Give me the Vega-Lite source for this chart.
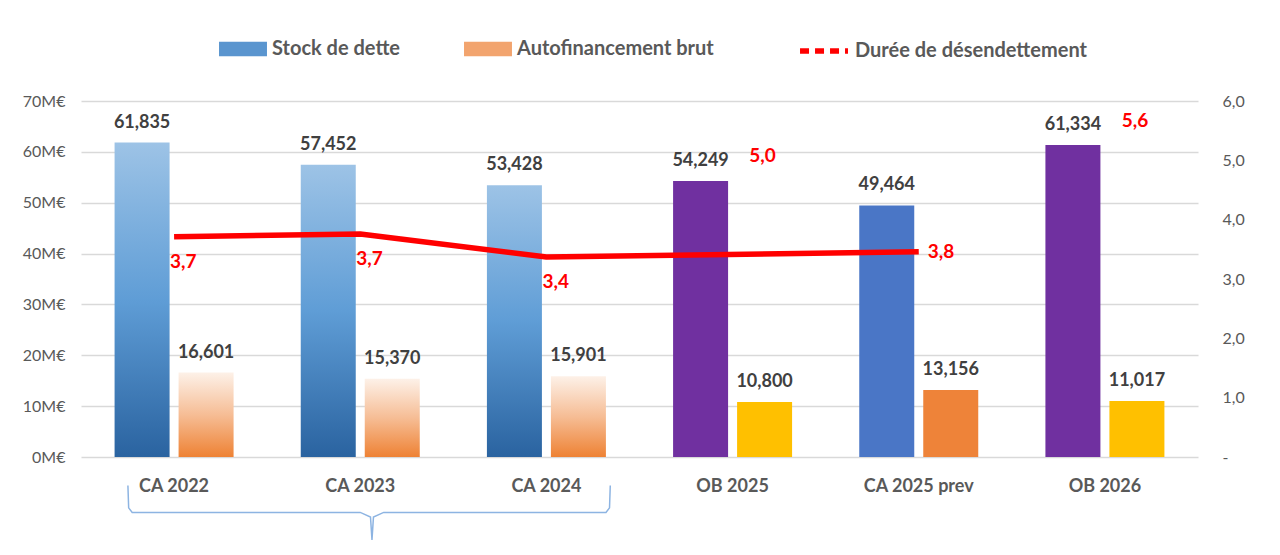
{
  "$schema": "https://vega.github.io/schema/vega-lite/v6.json",
  "width": 1117,
  "height": 356,
  "autosize": {"type": "none"},
  "padding": {"left": 81, "top": 101, "right": 82, "bottom": 98},
  "background": "white",
  "config": {
    "font": "Lato",
    "view": {"stroke": null},
    "locale": {"number": {"decimal": ",", "thousands": "\u00a0", "grouping": [3], "currency": ["", "\u00a0€"]}},
    "axis": {"domain": false, "ticks": false, "labelFont": "Lato"},
    "legend": {"labelFontSize": 20, "labelFontWeight": "bold", "labelColor": "#595959", "labelFont": "Lato", "labelOffset": 4, "labelLimit": 400, "direction": "horizontal"}
  },
  "datasets": {
    "barres": [
      {"annee": "CA 2022", "serie": "Stock de dette", "valeur": 61.835},
      {"annee": "CA 2023", "serie": "Stock de dette", "valeur": 57.452},
      {"annee": "CA 2024", "serie": "Stock de dette", "valeur": 53.428},
      {"annee": "OB 2025", "serie": "Stock de dette", "valeur": 54.249},
      {"annee": "CA 2025 prev", "serie": "Stock de dette", "valeur": 49.464},
      {"annee": "OB 2026", "serie": "Stock de dette", "valeur": 61.334},
      {"annee": "CA 2022", "serie": "Autofinancement brut", "valeur": 16.601},
      {"annee": "CA 2023", "serie": "Autofinancement brut", "valeur": 15.370},
      {"annee": "CA 2024", "serie": "Autofinancement brut", "valeur": 15.901},
      {"annee": "OB 2025", "serie": "Autofinancement brut", "valeur": 10.800},
      {"annee": "CA 2025 prev", "serie": "Autofinancement brut", "valeur": 13.156},
      {"annee": "OB 2026", "serie": "Autofinancement brut", "valeur": 11.017}
    ],
    "desendettement": [
      {"annee": "CA 2022", "serie": "Durée de désendettement", "duree": 3.71, "etiquette": "3,7"},
      {"annee": "CA 2023", "serie": "Durée de désendettement", "duree": 3.76, "etiquette": "3,7"},
      {"annee": "CA 2024", "serie": "Durée de désendettement", "duree": 3.37, "etiquette": "3,4"},
      {"annee": "OB 2025", "serie": "Durée de désendettement", "duree": 5.0, "etiquette": "5,0"},
      {"annee": "CA 2025 prev", "serie": "Durée de désendettement", "duree": 3.46, "etiquette": "3,8"},
      {"annee": "OB 2026", "serie": "Durée de désendettement", "duree": 5.6, "etiquette": "5,6"}
    ],
    "accolade": [
      {"bx": 0.252, "by": -5.6},
      {"bx": 0.256, "by": -10.0},
      {"bx": 0.275, "by": -10.9},
      {"bx": 1.50, "by": -10.9},
      {"bx": 1.555, "by": -11.8},
      {"bx": 1.563, "by": -16.3},
      {"bx": 1.571, "by": -11.8},
      {"bx": 1.626, "by": -10.9},
      {"bx": 2.82, "by": -10.9},
      {"bx": 2.839, "by": -10.0},
      {"bx": 2.843, "by": -5.6}
    ]
  },
  "resolve": {"scale": {"x": "independent", "y": "independent"}},
  "layer": [
    {
      "data": {"name": "barres"},
      "transform": [{"filter": "indexof(['CA 2022','CA 2023','CA 2024'], datum.annee) >= 0 && datum.serie === 'Stock de dette'"}],
      "mark": {"type": "bar", "width": 55, "xOffset": -32, "color": {"gradient": "linear", "x1": 0, "y1": 0, "x2": 0, "y2": 1, "stops": [{"offset": 0, "color": "#9DC3E6"}, {"offset": 0.5, "color": "#5F9DD6"}, {"offset": 1, "color": "#2A63A0"}]}},
      "encoding": {
        "x": {
          "field": "annee", "type": "nominal", "title": null,
          "scale": {"domain": ["CA 2022", "CA 2023", "CA 2024", "OB 2025", "CA 2025 prev", "OB 2026"], "paddingInner": 0.36, "paddingOuter": 0.18},
          "axis": {"labelAngle": 0, "labelFontSize": 18, "labelFontWeight": "bold", "labelColor": "#595959", "labelPadding": 20, "grid": false}
        },
        "y": {
          "field": "valeur", "type": "quantitative", "title": null,
          "scale": {"domain": [0, 70], "nice": false, "zero": true},
          "axis": {"orient": "left", "values": [0, 10, 20, 30, 40, 50, 60, 70], "labelExpr": "datum.value + 'M€'", "labelFontSize": 16, "labelColor": "#595959", "labelPadding": 16, "grid": true, "gridColor": "#D9D9D9", "gridWidth": 1.3}
        }
      }
    },
    {
      "data": {"name": "barres"},
      "transform": [{"filter": "indexof(['CA 2022','CA 2023','CA 2024'], datum.annee) >= 0 && datum.serie === 'Autofinancement brut'"}],
      "mark": {"type": "bar", "width": 55, "xOffset": 32, "color": {"gradient": "linear", "x1": 0, "y1": 0, "x2": 0, "y2": 1, "stops": [{"offset": 0, "color": "#FDF1E8"}, {"offset": 0.5, "color": "#F6BD95"}, {"offset": 1, "color": "#EE8234"}]}},
      "encoding": {
        "x": {"field": "annee", "type": "nominal", "scale": {"domain": ["CA 2022", "CA 2023", "CA 2024", "OB 2025", "CA 2025 prev", "OB 2026"], "paddingInner": 0.36, "paddingOuter": 0.18}, "axis": null},
        "y": {"field": "valeur", "type": "quantitative", "scale": {"domain": [0, 70], "nice": false, "zero": true}, "axis": null}
      }
    },
    {
      "data": {"name": "barres"},
      "transform": [{"filter": "indexof(['OB 2025','OB 2026'], datum.annee) >= 0 && datum.serie === 'Stock de dette'"}],
      "mark": {"type": "bar", "width": 55, "xOffset": -32, "color": "#7030A0"},
      "encoding": {
        "x": {"field": "annee", "type": "nominal", "scale": {"domain": ["CA 2022", "CA 2023", "CA 2024", "OB 2025", "CA 2025 prev", "OB 2026"], "paddingInner": 0.36, "paddingOuter": 0.18}, "axis": null},
        "y": {"field": "valeur", "type": "quantitative", "scale": {"domain": [0, 70], "nice": false, "zero": true}, "axis": null}
      }
    },
    {
      "data": {"name": "barres"},
      "transform": [{"filter": "indexof(['OB 2025','OB 2026'], datum.annee) >= 0 && datum.serie === 'Autofinancement brut'"}],
      "mark": {"type": "bar", "width": 55, "xOffset": 32, "color": "#FFC000"},
      "encoding": {
        "x": {"field": "annee", "type": "nominal", "scale": {"domain": ["CA 2022", "CA 2023", "CA 2024", "OB 2025", "CA 2025 prev", "OB 2026"], "paddingInner": 0.36, "paddingOuter": 0.18}, "axis": null},
        "y": {"field": "valeur", "type": "quantitative", "scale": {"domain": [0, 70], "nice": false, "zero": true}, "axis": null}
      }
    },
    {
      "data": {"name": "barres"},
      "transform": [{"filter": "datum.annee === 'CA 2025 prev' && datum.serie === 'Stock de dette'"}],
      "mark": {"type": "bar", "width": 55, "xOffset": -32, "color": "#4A76C6"},
      "encoding": {
        "x": {"field": "annee", "type": "nominal", "scale": {"domain": ["CA 2022", "CA 2023", "CA 2024", "OB 2025", "CA 2025 prev", "OB 2026"], "paddingInner": 0.36, "paddingOuter": 0.18}, "axis": null},
        "y": {"field": "valeur", "type": "quantitative", "scale": {"domain": [0, 70], "nice": false, "zero": true}, "axis": null}
      }
    },
    {
      "data": {"name": "barres"},
      "transform": [{"filter": "datum.annee === 'CA 2025 prev' && datum.serie === 'Autofinancement brut'"}],
      "mark": {"type": "bar", "width": 55, "xOffset": 32, "color": "#EE8339"},
      "encoding": {
        "x": {"field": "annee", "type": "nominal", "scale": {"domain": ["CA 2022", "CA 2023", "CA 2024", "OB 2025", "CA 2025 prev", "OB 2026"], "paddingInner": 0.36, "paddingOuter": 0.18}, "axis": null},
        "y": {"field": "valeur", "type": "quantitative", "scale": {"domain": [0, 70], "nice": false, "zero": true}, "axis": null}
      }
    },
    {
      "data": {"name": "barres"},
      "transform": [{"filter": "false"}],
      "mark": {"type": "bar"},
      "encoding": {
        "x": {"field": "annee", "type": "nominal", "scale": {"domain": ["CA 2022", "CA 2023", "CA 2024", "OB 2025", "CA 2025 prev", "OB 2026"], "paddingInner": 0.36, "paddingOuter": 0.18}, "axis": null},
        "y": {"field": "valeur", "type": "quantitative", "scale": {"domain": [0, 70], "nice": false, "zero": true}, "axis": null},
        "color": {
          "field": "serie", "type": "nominal",
          "scale": {"domain": ["Stock de dette", "Autofinancement brut"], "range": ["#5A95CF", "#F2A46E"]},
          "legend": {"title": null, "orient": "none", "legendX": 137, "legendY": -77, "columnPadding": 62, "symbolType": "M-1,-0.3H1V0.3H-1Z", "symbolSize": 2300}
        }
      }
    },
    {
      "data": {"name": "barres"},
      "transform": [{"filter": "datum.serie === 'Stock de dette'"}],
      "mark": {"type": "text", "baseline": "alphabetic", "dx": -32, "dy": -15, "fontSize": 18, "fontWeight": "bold", "color": "#404040"},
      "encoding": {
        "x": {"field": "annee", "type": "nominal", "scale": {"domain": ["CA 2022", "CA 2023", "CA 2024", "OB 2025", "CA 2025 prev", "OB 2026"], "paddingInner": 0.36, "paddingOuter": 0.18}, "axis": null},
        "y": {"field": "valeur", "type": "quantitative", "scale": {"domain": [0, 70], "nice": false, "zero": true}, "axis": null},
        "text": {"field": "valeur", "type": "quantitative", "format": ".3f"}
      }
    },
    {
      "data": {"name": "barres"},
      "transform": [{"filter": "datum.serie === 'Autofinancement brut'"}],
      "mark": {"type": "text", "baseline": "alphabetic", "dx": 32, "dy": -15, "fontSize": 18, "fontWeight": "bold", "color": "#404040"},
      "encoding": {
        "x": {"field": "annee", "type": "nominal", "scale": {"domain": ["CA 2022", "CA 2023", "CA 2024", "OB 2025", "CA 2025 prev", "OB 2026"], "paddingInner": 0.36, "paddingOuter": 0.18}, "axis": null},
        "y": {"field": "valeur", "type": "quantitative", "scale": {"domain": [0, 70], "nice": false, "zero": true}, "axis": null},
        "text": {"field": "valeur", "type": "quantitative", "format": ".3f"}
      }
    },
    {
      "data": {"name": "desendettement"},
      "transform": [{"filter": "indexof(['OB 2025','OB 2026'], datum.annee) < 0"}],
      "mark": {"type": "line", "color": "#FF0000", "strokeWidth": 5.5, "strokeJoin": "round"},
      "encoding": {
        "x": {"field": "annee", "type": "nominal", "scale": {"domain": ["CA 2022", "CA 2023", "CA 2024", "OB 2025", "CA 2025 prev", "OB 2026"], "paddingInner": 0.36, "paddingOuter": 0.18}, "axis": null},
        "y": {
          "field": "duree", "type": "quantitative", "title": null,
          "scale": {"domain": [0, 6], "nice": false, "zero": true},
          "axis": {"orient": "right", "values": [0, 1, 2, 3, 4, 5, 6], "labelExpr": "datum.value === 0 ? '-' : replace(format(datum.value, '.1f'), '.', ',')", "labelFontSize": 16, "labelColor": "#595959", "labelPadding": 24, "grid": false}
        }
      }
    },
    {
      "data": {"name": "desendettement"},
      "transform": [{"filter": "false"}],
      "mark": {"type": "line", "color": "#FF0000", "strokeWidth": 5.5},
      "encoding": {
        "x": {"field": "annee", "type": "nominal", "scale": {"domain": ["CA 2022", "CA 2023", "CA 2024", "OB 2025", "CA 2025 prev", "OB 2026"], "paddingInner": 0.36, "paddingOuter": 0.18}, "axis": null},
        "y": {"field": "duree", "type": "quantitative", "scale": {"domain": [0, 6], "nice": false, "zero": true}, "axis": null},
        "strokeDash": {
          "field": "serie", "type": "nominal",
          "scale": {"domain": ["Durée de désendettement"], "range": [[9, 6]]},
          "legend": {"title": null, "orient": "none", "legendX": 716, "legendY": -77, "symbolType": "stroke", "symbolSize": 2300, "symbolStrokeColor": "#FF0000", "symbolStrokeWidth": 5.5}
        }
      }
    },
    {
      "data": {"name": "desendettement"},
      "transform": [{"filter": "indexof(['CA 2022','CA 2023','CA 2024'], datum.annee) >= 0"}],
      "mark": {"type": "text", "align": "left", "baseline": "top", "dx": -4, "dy": 16, "fontSize": 19, "fontWeight": "bold", "color": "#FF0000"},
      "encoding": {
        "x": {"field": "annee", "type": "nominal", "scale": {"domain": ["CA 2022", "CA 2023", "CA 2024", "OB 2025", "CA 2025 prev", "OB 2026"], "paddingInner": 0.36, "paddingOuter": 0.18}, "axis": null},
        "y": {"field": "duree", "type": "quantitative", "scale": {"domain": [0, 6], "nice": false, "zero": true}, "axis": null},
        "text": {"field": "etiquette"}
      }
    },
    {
      "data": {"name": "desendettement"},
      "transform": [{"filter": "datum.annee === 'CA 2025 prev'"}],
      "mark": {"type": "text", "align": "left", "baseline": "middle", "dx": 9, "fontSize": 19, "fontWeight": "bold", "color": "#FF0000"},
      "encoding": {
        "x": {"field": "annee", "type": "nominal", "scale": {"domain": ["CA 2022", "CA 2023", "CA 2024", "OB 2025", "CA 2025 prev", "OB 2026"], "paddingInner": 0.36, "paddingOuter": 0.18}, "axis": null},
        "y": {"field": "duree", "type": "quantitative", "scale": {"domain": [0, 6], "nice": false, "zero": true}, "axis": null},
        "text": {"field": "etiquette"}
      }
    },
    {
      "data": {"name": "desendettement"},
      "transform": [{"filter": "indexof(['OB 2025','OB 2026'], datum.annee) >= 0"}],
      "mark": {"type": "text", "align": "center", "baseline": "middle", "dx": 30, "dy": -4, "fontSize": 19, "fontWeight": "bold", "color": "#FF0000"},
      "encoding": {
        "x": {"field": "annee", "type": "nominal", "scale": {"domain": ["CA 2022", "CA 2023", "CA 2024", "OB 2025", "CA 2025 prev", "OB 2026"], "paddingInner": 0.36, "paddingOuter": 0.18}, "axis": null},
        "y": {"field": "duree", "type": "quantitative", "scale": {"domain": [0, 6], "nice": false, "zero": true}, "axis": null},
        "text": {"field": "etiquette"}
      }
    },
    {
      "data": {"name": "accolade"},
      "mark": {"type": "line", "color": "#8DB4E2", "strokeWidth": 1.5, "clip": false},
      "encoding": {
        "x": {"field": "bx", "type": "quantitative", "scale": {"domain": [0, 6], "nice": false, "zero": false}, "axis": null},
        "y": {"field": "by", "type": "quantitative", "scale": {"domain": [0, 70], "nice": false, "zero": false}, "axis": null}
      }
    }
  ]
}
